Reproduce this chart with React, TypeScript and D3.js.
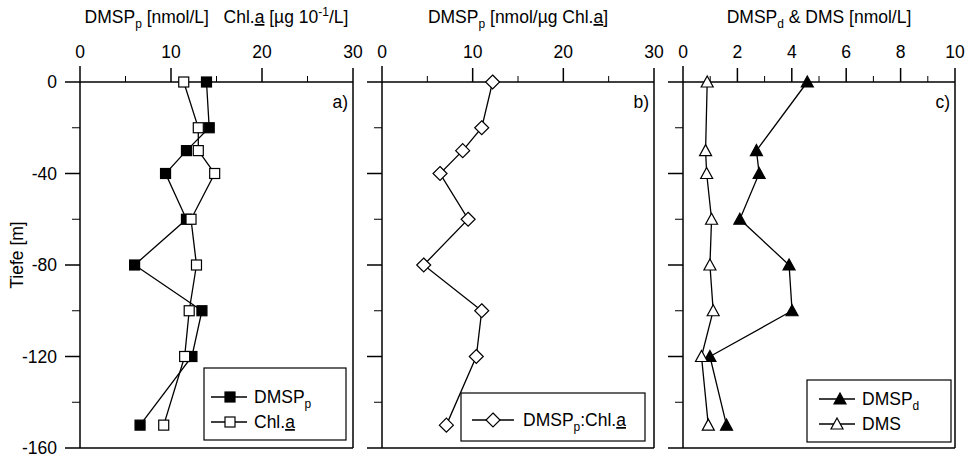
import React from "react";
import * as d3 from "d3";

// depth profiles (m)
const depths = [0, -20, -30, -40, -60, -80, -100, -120, -150];
const dmspP = [13.9, 14.2, 11.7, 9.4, 11.7, 6.0, 13.4, 12.3, 6.6];
const chlA = [11.4, 13.0, 13.0, 14.8, 12.2, 12.8, 12.0, 11.5, 9.2];
const ratioPChl = [12.2, 11.0, 8.9, 6.4, 9.5, 4.6, 11.0, 10.4, 7.1];

const depthsC = [0, -30, -40, -60, -80, -100, -120, -150];
const dmspD = [4.57, 2.7, 2.8, 2.09, 3.9, 4.01, 0.99, 1.6];
const dms = [0.89, 0.83, 0.87, 1.05, 0.99, 1.11, 0.68, 0.93];

const depthMajor = [0, -40, -80, -120, -160];
const depthMinor = [-20, -60, -100, -140];
const ticksAB = [0, 10, 20, 30];
const minorAB = [5, 15, 25];
const ticksC = [0, 2, 4, 6, 8, 10];
const minorC = [1, 3, 5, 7, 9];

const FONT = "'Liberation Sans', Arial, Helvetica, sans-serif";
const FS = 17.5;
const SUB = 12;
const TOP = 82;
const BOTTOM = 448;

const y = d3.scaleLinear().domain([-160, 0]).range([BOTTOM, TOP]);
const xA = d3.scaleLinear().domain([0, 30]).range([80, 353]);
const xB = d3.scaleLinear().domain([0, 30]).range([382, 654]);
const xC = d3.scaleLinear().domain([0, 10]).range([683, 955]);

type Pt = [number, number];

const toPts = (x: d3.ScaleLinear<number, number>, vals: number[], ds: number[]): Pt[] =>
  vals.map((v, i) => [x(v), y(ds[i])]);

const line = d3.line<Pt>();

const Square = ({ p, filled }: { p: Pt; filled: boolean }) => (
  <rect x={p[0] - 5} y={p[1] - 5} width={10} height={10}
    fill={filled ? "#000" : "#fff"} stroke="#000" strokeWidth={1.2} />
);

const Diamond = ({ p }: { p: Pt }) => {
  const r = 7;
  return (
    <polygon points={`${p[0]},${p[1] - r} ${p[0] + r},${p[1]} ${p[0]},${p[1] + r} ${p[0] - r},${p[1]}`}
      fill="#fff" stroke="#000" strokeWidth={1.2} />
  );
};

const Triangle = ({ p, filled }: { p: Pt; filled: boolean }) => (
  <polygon points={`${p[0]},${p[1] - 6} ${p[0] + 6},${p[1] + 5} ${p[0] - 6},${p[1] + 5}`}
    fill={filled ? "#000" : "#fff"} stroke="#000" strokeWidth={1.2} />
);

// text with a subscript in the middle: pre + sub + rest
const subText = (pre: string, sub: string, rest?: React.ReactNode) => (
  <>
    <tspan>{pre}</tspan>
    <tspan dy={5} fontSize={SUB}>{sub}</tspan>
    {rest != null && <tspan dy={-5}>{rest}</tspan>}
  </>
);

const Und = ({ children }: { children: string }) => (
  <tspan style={{ textDecoration: "underline" }}>{children}</tspan>
);

type PanelProps = {
  x: d3.ScaleLinear<number, number>;
  ticks: number[];
  minor: number[];
  yLabels?: boolean;
  title: React.ReactNode;
  tag: string;
  children?: React.ReactNode;
};

const Panel = ({ x, ticks, minor, yLabels, title, tag, children }: PanelProps) => {
  const [x0, x1] = x.range();
  const mid = (x0 + x1) / 2;
  return (
    <g>
      <text x={mid} y={23} textAnchor="middle" fontSize={FS}>{title}</text>
      {ticks.map((t) => (
        <text key={t} x={x(t)} y={58} textAnchor="middle" fontSize={FS}>{t}</text>
      ))}
      {/* frame */}
      <g stroke="#000" strokeWidth={1.5} fill="none">
        <line x1={x0 - 15} x2={x1} y1={TOP} y2={TOP} />
        <line x1={x0 - 15} x2={x1} y1={BOTTOM} y2={BOTTOM} />
        <line x1={x0} x2={x0} y1={TOP - 16} y2={BOTTOM} />
        <line x1={x1} x2={x1} y1={TOP - 14} y2={BOTTOM} />
        {ticks.slice(1, -1).map((t) => (
          <line key={t} x1={x(t)} x2={x(t)} y1={TOP - 14} y2={TOP} />
        ))}
        {minor.map((t) => (
          <line key={t} x1={x(t)} x2={x(t)} y1={TOP - 6} y2={TOP} strokeWidth={1} />
        ))}
        {depthMajor.slice(1, -1).map((d) => (
          <line key={d} x1={x0 - 15} x2={x0} y1={y(d)} y2={y(d)} />
        ))}
        {depthMinor.map((d) => (
          <line key={d} x1={x0 - 8} x2={x0} y1={y(d)} y2={y(d)} strokeWidth={1} />
        ))}
      </g>
      {yLabels && depthMajor.map((d) => (
        <text key={d} x={57} y={y(d) + 6} textAnchor="end" fontSize={FS}>{d}</text>
      ))}
      <text x={x1 - 5} y={108} textAnchor="end" fontSize={FS}>{tag}</text>
      {children}
    </g>
  );
};

const LegendBox = ({ x0, y0, x1, y1 }: { x0: number; y0: number; x1: number; y1: number }) => (
  <rect x={x0} y={y0} width={x1 - x0} height={y1 - y0} fill="#fff" stroke="#000" strokeWidth={1.2} />
);

export default function App() {
  const pDmspP = toPts(xA, dmspP, depths);
  const pChl = toPts(xA, chlA, depths);
  const pRatio = toPts(xB, ratioPChl, depths);
  const pDmspD = toPts(xC, dmspD, depthsC);
  const pDms = toPts(xC, dms, depthsC);

  return (
    <svg width={968} height={457} style={{ position: "absolute", left: 0, top: 0, background: "#fff" }}
      fontFamily={FONT}>
      <text transform={`translate(23,255) rotate(-90)`} textAnchor="middle" fontSize={FS}>Tiefe [m]</text>

      <Panel x={xA} ticks={ticksAB} minor={minorAB} yLabels tag="a)"
        title={subText("DMSP", "p", <>{" [nmol/L]\u00a0\u00a0\u00a0Chl."}<Und>a</Und>{" [µg 10"}<tspan dy={-7} fontSize={SUB}>-1</tspan><tspan dy={7}>/L]</tspan></>)}>
        <path d={line(pDmspP) ?? ""} fill="none" stroke="#000" strokeWidth={1.3} />
        <path d={line(pChl) ?? ""} fill="none" stroke="#000" strokeWidth={1.3} />
        {pDmspP.map((p, i) => <Square key={i} p={p} filled />)}
        {pChl.map((p, i) => <Square key={i} p={p} filled={false} />)}
        <LegendBox x0={204} y0={368} x1={346} y1={440} />
        <line x1={211} x2={247} y1={397} y2={397} stroke="#000" strokeWidth={1.3} />
        <Square p={[230, 397]} filled />
        <text x={254} y={403} fontSize={FS}>{subText("DMSP", "p")}</text>
        <line x1={211} x2={247} y1={422} y2={422} stroke="#000" strokeWidth={1.3} />
        <Square p={[230, 422]} filled={false} />
        <text x={254} y={428} fontSize={FS}>Chl.<Und>a</Und></text>
      </Panel>

      <Panel x={xB} ticks={ticksAB} minor={minorAB} tag="b)"
        title={subText("DMSP", "p", <>{" [nmol/µg Chl."}<Und>a</Und>]</>)}>
        <path d={line(pRatio) ?? ""} fill="none" stroke="#000" strokeWidth={1.3} />
        {pRatio.map((p, i) => <Diamond key={i} p={p} />)}
        <LegendBox x0={461} y0={393} x1={645} y1={441} />
        <line x1={472} x2={514} y1={420} y2={420} stroke="#000" strokeWidth={1.3} />
        <Diamond p={[493, 420]} />
        <text x={523} y={426} fontSize={FS}>{subText("DMSP", "p", <>:Chl.<Und>a</Und></>)}</text>
      </Panel>

      <Panel x={xC} ticks={ticksC} minor={minorC} tag="c)"
        title={subText("DMSP", "d", " & DMS [nmol/L]")}>
        <path d={line(pDmspD) ?? ""} fill="none" stroke="#000" strokeWidth={1.3} />
        <path d={line(pDms) ?? ""} fill="none" stroke="#000" strokeWidth={1.3} />
        {pDmspD.map((p, i) => <Triangle key={i} p={p} filled />)}
        {pDms.map((p, i) => <Triangle key={i} p={p} filled={false} />)}
        <LegendBox x0={807} y0={380} x1={951} y1={442} />
        <line x1={819} x2={855} y1={399} y2={399} stroke="#000" strokeWidth={1.3} />
        <Triangle p={[840, 399]} filled />
        <text x={862} y={405} fontSize={FS}>{subText("DMSP", "d")}</text>
        <line x1={819} x2={855} y1={424} y2={424} stroke="#000" strokeWidth={1.3} />
        <Triangle p={[837, 424]} filled={false} />
        <text x={862} y={430} fontSize={FS}>DMS</text>
      </Panel>
    </svg>
  );
}
